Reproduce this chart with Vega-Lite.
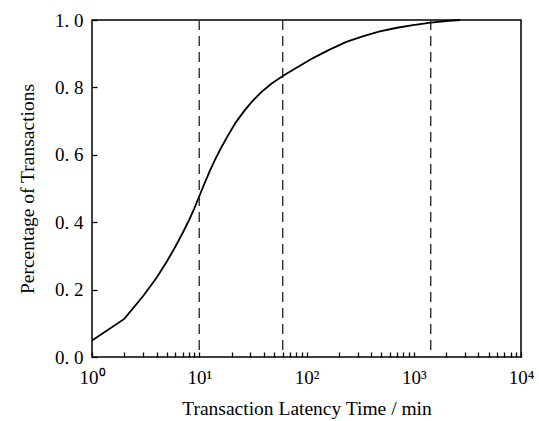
{
  "$schema": "https://vega.github.io/schema/vega-lite/v6.json",
  "autosize": {"type": "none"},
  "padding": {"left": 92, "top": 20, "right": 18, "bottom": 64},
  "width": 429,
  "height": 337,
  "background": "white",
  "config": {
    "view": {"stroke": "black", "strokeWidth": 1.5},
    "font": "Liberation Serif",
    "axis": {
      "grid": false,
      "domain": false,
      "tickColor": "black",
      "tickWidth": 1.3,
      "tickSize": -5,
      "labelColor": "black",
      "titleColor": "black",
      "labelFont": "Liberation Serif",
      "titleFont": "Liberation Serif",
      "labelFontSize": 19,
      "titleFontSize": 19.5,
      "titleFontWeight": "normal"
    }
  },
  "datasets": {
    "cdf": [
      {"t": 1, "p": 0.049},
      {"t": 2, "p": 0.113},
      {"t": 3, "p": 0.181},
      {"t": 4, "p": 0.235},
      {"t": 5, "p": 0.284},
      {"t": 6, "p": 0.328},
      {"t": 7, "p": 0.368},
      {"t": 8, "p": 0.405},
      {"t": 9, "p": 0.441},
      {"t": 10, "p": 0.477},
      {"t": 11.2, "p": 0.515},
      {"t": 12.5, "p": 0.551},
      {"t": 13.9, "p": 0.583},
      {"t": 16, "p": 0.621},
      {"t": 18.5, "p": 0.657},
      {"t": 22, "p": 0.697},
      {"t": 26.4, "p": 0.731},
      {"t": 31, "p": 0.758},
      {"t": 37.9, "p": 0.786},
      {"t": 47, "p": 0.811},
      {"t": 60, "p": 0.834},
      {"t": 86.7, "p": 0.864},
      {"t": 115, "p": 0.887},
      {"t": 164, "p": 0.912},
      {"t": 235, "p": 0.935},
      {"t": 340, "p": 0.952},
      {"t": 482, "p": 0.966},
      {"t": 700, "p": 0.977},
      {"t": 985, "p": 0.985},
      {"t": 1440, "p": 0.992},
      {"t": 2000, "p": 0.997},
      {"t": 2700, "p": 1.0}
    ],
    "marks": [
      {"t": 10},
      {"t": 60},
      {"t": 1440}
    ]
  },
  "layer": [
    {
      "data": {"name": "marks"},
      "mark": {"type": "rule", "color": "#333333", "strokeWidth": 1.4, "strokeDash": [10, 6]},
      "encoding": {
        "x": {"field": "t", "type": "quantitative", "scale": {"type": "log", "domain": [1, 10000]}}
      }
    },
    {
      "data": {"name": "cdf"},
      "mark": {"type": "line", "color": "black", "strokeWidth": 1.8, "interpolate": "linear"},
      "encoding": {
        "x": {
          "field": "t",
          "type": "quantitative",
          "scale": {"type": "log", "domain": [1, 10000]},
          "axis": {
            "title": "Transaction Latency Time / min",
            "titlePadding": 12,
            "labelPadding": 16,
            "values": [1,2,3,4,5,6,7,8,9,10,20,30,40,50,60,70,80,90,100,200,300,400,500,600,700,800,900,1000,2000,3000,4000,5000,6000,7000,8000,9000,10000],
            "labelExpr": "datum.value == 1 ? '10⁰' : datum.value == 10 ? '10¹' : datum.value == 100 ? '10²' : datum.value == 1000 ? '10³' : datum.value == 10000 ? '10⁴' : ''",
            "labelFlush": false,
            "labelOverlap": false
          }
        },
        "y": {
          "field": "p",
          "type": "quantitative",
          "scale": {"domain": [0, 1]},
          "axis": {
            "title": "Percentage of Transactions",
            "titlePadding": 17,
            "labelPadding": 14,
            "values": [0, 0.2, 0.4, 0.6, 0.8, 1.0],
            "labelExpr": "replace(format(datum.value, '.1f'), '.', '. ')",
            "labelFlush": false
          }
        }
      }
    }
  ]
}
